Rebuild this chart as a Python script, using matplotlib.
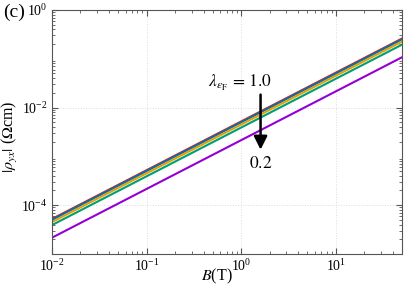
import numpy as np
import matplotlib
matplotlib.use("Agg")
import matplotlib.pyplot as plt

plt.rcParams['font.family'] = ['Liberation Serif', 'DejaVu Serif']
plt.rcParams['mathtext.fontset'] = 'stix'

# data: |rho_yx| = coef * B
lambdas = [1.0, 0.8, 0.6, 0.4, 0.2]
coefs = [5.2e-3, 5.0e-3, 4.5e-3, 3.9e-3, 2.15e-3]
colors = ['#e51e10', '#0072b2', '#e69f00', '#009e73', '#9400d3']
B = np.array([1e-2, 50.0])

fig = plt.figure(figsize=(4.09, 2.85), dpi=100)
ax = fig.add_axes([0.127, 0.109, 0.856, 0.856])

for c, col in zip(coefs, colors):
    ax.plot(B, c * B, color=col, lw=1.5)

ax.set_xscale('log')
ax.set_yscale('log')
ax.set_xlim(1e-2, 50)
ax.set_ylim(1e-5, 1)
ax.set_xticks([1e-2, 1e-1, 1e0, 1e1])
ax.set_yticks([1e-4, 1e-2, 1e0])
ax.tick_params(which='both', direction='in', top=True, right=True, labelsize=10, color='#555555')
ax.tick_params(which='major', length=4, pad=3)
ax.tick_params(which='minor', length=2)
for s in ax.spines.values():
    s.set_color('#555555')
ax.grid(True, which='major', ls=':', color='#dddddd', lw=0.7)

ax.set_xlabel(r'$B$(T)', fontsize=11.5)
ax.xaxis.set_label_coords(0.471, -0.053)
ax.set_ylabel(r'$|\rho_{yx}|$ ($\Omega$cm)', fontsize=11.5)
ax.yaxis.set_label_coords(-0.09, 0.48)

ax.annotate('', xy=(1.6, 1.2e-3), xytext=(1.6, 2.1e-2),
            arrowprops=dict(arrowstyle='-|>', color='black', lw=1.8, mutation_scale=20))
ax.text(0.975, 2.6e-2, r'$\lambda_{\varepsilon_{\rm F}}\,=\,1.0$', ha='center', va='baseline', fontsize=12.5)
ax.text(1.6, 1.0e-3, r'$0.2$', ha='center', va='top', fontsize=12.5)

fig.text(0.008, 0.955, '(c)', fontsize=14, va='center', ha='left')

fig.savefig('out.png', dpi=100)
